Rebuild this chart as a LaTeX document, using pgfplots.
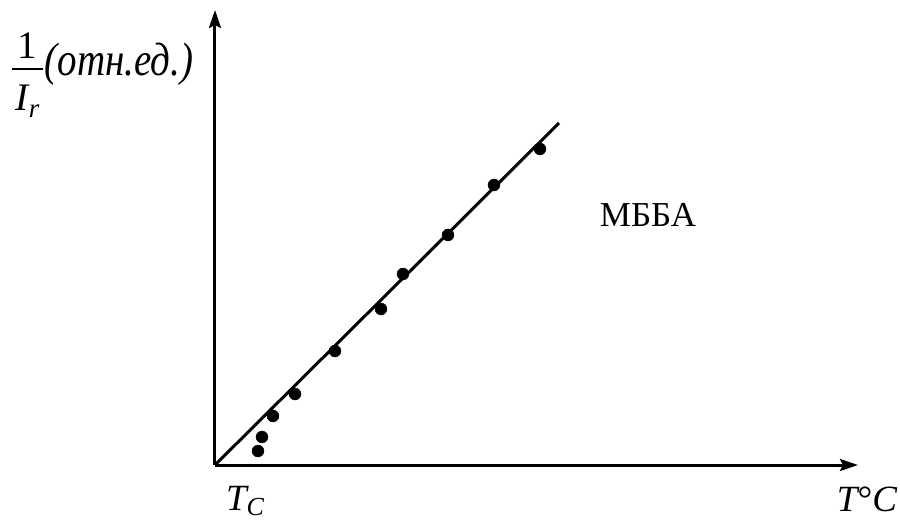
\documentclass[border=0pt]{standalone}
\usepackage{fontspec}
\setmainfont{Liberation Serif}
\usepackage{graphicx}
\usepackage{pgfplots}
\pgfplotsset{compat=1.18}
\usetikzlibrary{arrows.meta}
\begin{document}
\begin{tikzpicture}
\begin{axis}[
  x=1pt, y=1pt,
  xmin=0, xmax=643, ymin=0, ymax=455,
  axis lines=left,
  axis line style={line width=3pt, -{Stealth[length=18pt,width=12pt,inset=3pt]}},
  xtick=\empty, ytick=\empty,
  clip=false,
]
% fitted line
\addplot[line width=3pt, black] coordinates {(0,0) (344,342)};
% measured points
\addplot[only marks, mark=*, mark size=6pt, black] coordinates {
  (43,14) (47,28) (58,49) (80,71) (120,114) (166,156)
  (188,191) (233,230) (279,280) (325,316)
};
\node[font=\fontsize{35}{40}\selectfont] at (axis cs:433,250) {МББА};
\node[font=\fontsize{39}{44}\selectfont, inner sep=0pt] at (axis cs:-113,390)
  {$\displaystyle{\mbox{1}\above2.5pt\mbox{\hspace{4pt}\rule{0pt}{33pt}\itshape I\raisebox{-0.35ex}{\fontsize{27}{30}\selectfont r}\hspace{4pt}}}
   \mbox{\scalebox{1}[1.2]{\itshape (отн.ед.)}}$};
\node[font=\fontsize{37}{42}\selectfont] at (axis cs:30,-36)
  {\itshape T\raisebox{-0.3ex}{\fontsize{26}{30}\selectfont C}};
\node[font=\fontsize{37}{42}\selectfont] at (axis cs:652,-34)
  {\itshape T\upshape°\itshape C};
\coordinate (bl) at (axis cs:-215,-55);
\coordinate (tr) at (axis cs:685,465);
\end{axis}
\pgfresetboundingbox
\path[use as bounding box] (bl) rectangle (tr);
\end{tikzpicture}
\end{document}
